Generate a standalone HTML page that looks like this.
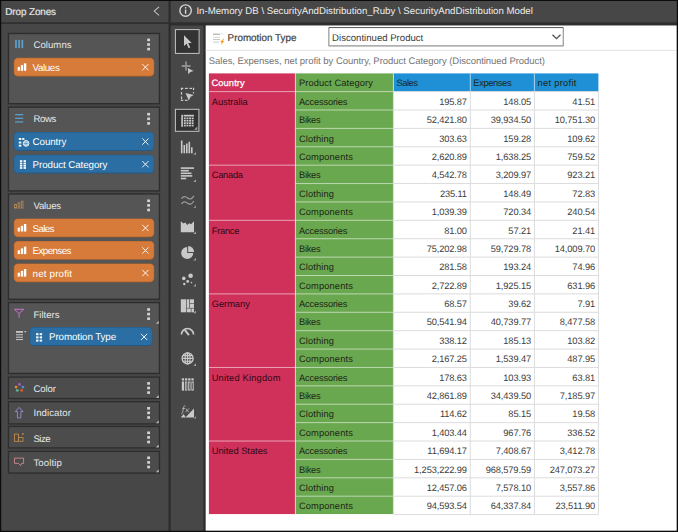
<!DOCTYPE html>
<html><head><meta charset="utf-8">
<title>Drop Zones</title>
<style>
html,body{margin:0;padding:0;}
body{text-rendering:geometricPrecision;width:678px;height:532px;overflow:hidden;background:#474747;position:relative;font-family:"Liberation Sans",sans-serif;font-size:9.5px;color:#e4e4e4;}
.abs{position:absolute;}
.t{white-space:nowrap;font-size:9.3px;letter-spacing:-0.12px;}
.hw{color:#fff;-webkit-text-stroke:0.25px #fff;}
.hd{color:#1c2616;}
.hr{color:#300815;}
.num{color:#3c3c3c;text-align:right;}
.bt{position:absolute;left:33.4px;font-size:9.6px;color:#e6e6e6;white-space:nowrap;}
.pt{position:absolute;line-height:19.4px;font-size:9.8px;color:#fff;white-space:nowrap;letter-spacing:-0.1px;}
svg{position:absolute;overflow:visible;}
</style></head><body>
<svg style="left:0;top:0" width="678" height="532" viewBox="0 0 678 532">
<rect x="0.00" y="0.00" width="678.00" height="532.00" fill="#474747" />
<rect x="0.00" y="22.30" width="170.00" height="1.60" fill="#2e2e2e" />
<rect x="168.50" y="0.00" width="2.20" height="532.00" fill="#2c2c2c" />
<rect x="170.00" y="22.30" width="508.00" height="3.20" fill="#2e2e2e" />
<rect x="203.30" y="23.00" width="2.40" height="509.00" fill="#2e2e2e" />
<rect x="205.70" y="25.50" width="471.10" height="505.30" fill="#ffffff" />
<rect x="205.70" y="49.90" width="470.10" height="1.10" fill="#e4e4e4" />
<rect x="0.00" y="0.00" width="678.00" height="1.00" fill="#0c0c0c" />
<rect x="0.00" y="0.00" width="1.20" height="532.00" fill="#0c0c0c" />
<rect x="676.80" y="0.00" width="1.20" height="532.00" fill="#0c0c0c" />
<rect x="0.00" y="530.80" width="678.00" height="1.20" fill="#0c0c0c" />
<rect x="7.80" y="32.80" width="152.35" height="71.60" fill="#2d2d2d" />
<rect x="9.15" y="34.15" width="149.65" height="68.90" fill="#555555" />
<rect x="7.80" y="106.50" width="152.35" height="85.10" fill="#2d2d2d" />
<rect x="9.15" y="107.85" width="149.65" height="82.40" fill="#555555" />
<rect x="7.80" y="193.30" width="152.35" height="106.70" fill="#2d2d2d" />
<rect x="9.15" y="194.65" width="149.65" height="104.00" fill="#555555" />
<rect x="7.80" y="301.90" width="152.35" height="72.20" fill="#2d2d2d" />
<rect x="9.15" y="303.25" width="149.65" height="69.50" fill="#555555" />
<rect x="7.80" y="376.40" width="152.35" height="22.80" fill="#2d2d2d" />
<rect x="9.15" y="377.75" width="149.65" height="20.10" fill="#4c4c4c" />
<rect x="7.80" y="401.00" width="152.35" height="23.60" fill="#2d2d2d" />
<rect x="9.15" y="402.35" width="149.65" height="20.90" fill="#4c4c4c" />
<rect x="7.80" y="425.80" width="152.35" height="22.80" fill="#2d2d2d" />
<rect x="9.15" y="427.15" width="149.65" height="20.10" fill="#4c4c4c" />
<rect x="7.80" y="450.70" width="152.35" height="23.00" fill="#2d2d2d" />
<rect x="9.15" y="452.05" width="149.65" height="20.30" fill="#4c4c4c" />
<rect x="13.8" y="57.8" width="140.40" height="18.80" rx="4.2" fill="#b8652b"/>
<rect x="14.3" y="58.199999999999996" width="139.40" height="17.50" rx="3.9" fill="#d67b39"/>
<rect x="13.8" y="132.1" width="140.40" height="18.80" rx="4.2" fill="#225a87"/>
<rect x="14.3" y="132.5" width="139.40" height="17.50" rx="3.9" fill="#2a6ea3"/>
<rect x="13.8" y="154.8" width="140.40" height="18.70" rx="4.2" fill="#225a87"/>
<rect x="14.3" y="155.20000000000002" width="139.40" height="17.40" rx="3.9" fill="#2a6ea3"/>
<rect x="13.8" y="218.5" width="140.40" height="18.80" rx="4.2" fill="#b8652b"/>
<rect x="14.3" y="218.9" width="139.40" height="17.50" rx="3.9" fill="#d67b39"/>
<rect x="13.8" y="241.0" width="140.40" height="18.80" rx="4.2" fill="#b8652b"/>
<rect x="14.3" y="241.4" width="139.40" height="17.50" rx="3.9" fill="#d67b39"/>
<rect x="13.8" y="263.5" width="140.40" height="18.80" rx="4.2" fill="#b8652b"/>
<rect x="14.3" y="263.9" width="139.40" height="17.50" rx="3.9" fill="#d67b39"/>
<rect x="29.7" y="327.1" width="122.70" height="18.90" rx="4.2" fill="#225a87"/>
<rect x="30.2" y="327.5" width="121.70" height="17.60" rx="3.9" fill="#2a6ea3"/>
<rect x="328.3" y="27.0" width="235.5" height="19.6" rx="1.2" fill="#8e8e8e"/>
<rect x="328.90" y="27.00" width="234.30" height="1.10" fill="#5e5e5e" />
<rect x="329.40" y="28.10" width="233.30" height="17.20" fill="#ffffff" />
<rect x="208.90" y="73.40" width="86.50" height="440.67" fill="#d0315a"/>
<rect x="295.40" y="73.40" width="98.00" height="440.67" fill="#6aa84f"/>
<rect x="393.40" y="73.40" width="205.00" height="18.20" fill="#1f8fd6"/>
<rect x="208.90" y="91.10" width="86.50" height="1.00" fill="rgba(255,255,255,0.55)"/>
<rect x="295.40" y="91.10" width="98.00" height="1.00" fill="rgba(255,255,255,0.55)"/>
<rect x="393.40" y="91.10" width="205.00" height="1.00" fill="#dcdcdc"/>
<rect x="295.40" y="109.49" width="98.00" height="1.00" fill="rgba(255,255,255,0.55)"/>
<rect x="393.40" y="109.49" width="205.00" height="1.00" fill="#dcdcdc"/>
<rect x="295.40" y="127.88" width="98.00" height="1.00" fill="rgba(255,255,255,0.55)"/>
<rect x="393.40" y="127.88" width="205.00" height="1.00" fill="#dcdcdc"/>
<rect x="295.40" y="146.27" width="98.00" height="1.00" fill="rgba(255,255,255,0.55)"/>
<rect x="393.40" y="146.27" width="205.00" height="1.00" fill="#dcdcdc"/>
<rect x="208.90" y="164.66" width="86.50" height="1.00" fill="rgba(255,255,255,0.55)"/>
<rect x="295.40" y="164.66" width="98.00" height="1.00" fill="rgba(255,255,255,0.55)"/>
<rect x="393.40" y="164.66" width="205.00" height="1.00" fill="#dcdcdc"/>
<rect x="295.40" y="183.05" width="98.00" height="1.00" fill="rgba(255,255,255,0.55)"/>
<rect x="393.40" y="183.05" width="205.00" height="1.00" fill="#dcdcdc"/>
<rect x="295.40" y="201.44" width="98.00" height="1.00" fill="rgba(255,255,255,0.55)"/>
<rect x="393.40" y="201.44" width="205.00" height="1.00" fill="#dcdcdc"/>
<rect x="208.90" y="219.83" width="86.50" height="1.00" fill="rgba(255,255,255,0.55)"/>
<rect x="295.40" y="219.83" width="98.00" height="1.00" fill="rgba(255,255,255,0.55)"/>
<rect x="393.40" y="219.83" width="205.00" height="1.00" fill="#dcdcdc"/>
<rect x="295.40" y="238.22" width="98.00" height="1.00" fill="rgba(255,255,255,0.55)"/>
<rect x="393.40" y="238.22" width="205.00" height="1.00" fill="#dcdcdc"/>
<rect x="295.40" y="256.61" width="98.00" height="1.00" fill="rgba(255,255,255,0.55)"/>
<rect x="393.40" y="256.61" width="205.00" height="1.00" fill="#dcdcdc"/>
<rect x="295.40" y="275.00" width="98.00" height="1.00" fill="rgba(255,255,255,0.55)"/>
<rect x="393.40" y="275.00" width="205.00" height="1.00" fill="#dcdcdc"/>
<rect x="208.90" y="293.39" width="86.50" height="1.00" fill="rgba(255,255,255,0.55)"/>
<rect x="295.40" y="293.39" width="98.00" height="1.00" fill="rgba(255,255,255,0.55)"/>
<rect x="393.40" y="293.39" width="205.00" height="1.00" fill="#dcdcdc"/>
<rect x="295.40" y="311.78" width="98.00" height="1.00" fill="rgba(255,255,255,0.55)"/>
<rect x="393.40" y="311.78" width="205.00" height="1.00" fill="#dcdcdc"/>
<rect x="295.40" y="330.17" width="98.00" height="1.00" fill="rgba(255,255,255,0.55)"/>
<rect x="393.40" y="330.17" width="205.00" height="1.00" fill="#dcdcdc"/>
<rect x="295.40" y="348.56" width="98.00" height="1.00" fill="rgba(255,255,255,0.55)"/>
<rect x="393.40" y="348.56" width="205.00" height="1.00" fill="#dcdcdc"/>
<rect x="208.90" y="366.95" width="86.50" height="1.00" fill="rgba(255,255,255,0.55)"/>
<rect x="295.40" y="366.95" width="98.00" height="1.00" fill="rgba(255,255,255,0.55)"/>
<rect x="393.40" y="366.95" width="205.00" height="1.00" fill="#dcdcdc"/>
<rect x="295.40" y="385.34" width="98.00" height="1.00" fill="rgba(255,255,255,0.55)"/>
<rect x="393.40" y="385.34" width="205.00" height="1.00" fill="#dcdcdc"/>
<rect x="295.40" y="403.73" width="98.00" height="1.00" fill="rgba(255,255,255,0.55)"/>
<rect x="393.40" y="403.73" width="205.00" height="1.00" fill="#dcdcdc"/>
<rect x="295.40" y="422.12" width="98.00" height="1.00" fill="rgba(255,255,255,0.55)"/>
<rect x="393.40" y="422.12" width="205.00" height="1.00" fill="#dcdcdc"/>
<rect x="208.90" y="440.51" width="86.50" height="1.00" fill="rgba(255,255,255,0.55)"/>
<rect x="295.40" y="440.51" width="98.00" height="1.00" fill="rgba(255,255,255,0.55)"/>
<rect x="393.40" y="440.51" width="205.00" height="1.00" fill="#dcdcdc"/>
<rect x="295.40" y="458.90" width="98.00" height="1.00" fill="rgba(255,255,255,0.55)"/>
<rect x="393.40" y="458.90" width="205.00" height="1.00" fill="#dcdcdc"/>
<rect x="295.40" y="477.29" width="98.00" height="1.00" fill="rgba(255,255,255,0.55)"/>
<rect x="393.40" y="477.29" width="205.00" height="1.00" fill="#dcdcdc"/>
<rect x="295.40" y="495.68" width="98.00" height="1.00" fill="rgba(255,255,255,0.55)"/>
<rect x="393.40" y="495.68" width="205.00" height="1.00" fill="#dcdcdc"/>
<rect x="393.40" y="514.07" width="205.00" height="1.00" fill="#dcdcdc"/>
<rect x="294.90" y="73.40" width="1.00" height="440.67" fill="rgba(255,255,255,0.6)"/>
<rect x="392.90" y="73.40" width="1.00" height="17.70" fill="rgba(255,255,255,0.6)"/>
<rect x="469.80" y="73.40" width="1.00" height="17.70" fill="rgba(255,255,255,0.6)"/>
<rect x="533.90" y="73.40" width="1.00" height="17.70" fill="rgba(255,255,255,0.6)"/>
<rect x="392.90" y="91.10" width="1.00" height="422.97" fill="#dcdcdc"/>
<rect x="469.80" y="91.10" width="1.00" height="422.97" fill="#dcdcdc"/>
<rect x="533.90" y="91.10" width="1.00" height="422.97" fill="#dcdcdc"/>
<rect x="597.90" y="91.10" width="1.00" height="422.97" fill="#dcdcdc"/>
<rect x="15.1" y="39.9" width="1.8" height="8.2" fill="#5c9fc9"/>
<rect x="18.2" y="39.9" width="1.8" height="8.2" fill="#5c9fc9"/>
<rect x="21.4" y="39.9" width="1.8" height="8.2" fill="#5c9fc9"/>
<rect x="15.1" y="114.0" width="8.1" height="1.25" fill="#5c9fc9"/>
<rect x="15.1" y="117.7" width="8.1" height="1.25" fill="#5c9fc9"/>
<rect x="15.1" y="121.3" width="8.1" height="1.25" fill="#5c9fc9"/>
<rect x="14.6" y="204.3" width="1.9" height="3.8" fill="none" stroke="#b98a55" stroke-width="0.8"/>
<rect x="18.1" y="202.8" width="1.7" height="5.3" fill="none" stroke="#b98a55" stroke-width="0.8"/>
<rect x="21.3" y="201.2" width="1.7" height="6.9" fill="none" stroke="#b98a55" stroke-width="0.8"/>
<path d="M14.4 309.3 H23.8 L19.1 313.6 Z M19.1 313.6 V317.8" fill="none" stroke="#cf6fd0" stroke-width="1" stroke-linejoin="miter"/>
<rect x="16" y="331.1" width="7" height="1.7" fill="#cfcfcf"/>
<rect x="16" y="334.3" width="7" height="0.95" fill="#cfcfcf"/>
<rect x="16" y="336.7" width="7" height="0.95" fill="#cfcfcf"/>
<rect x="16" y="339.1" width="7" height="0.95" fill="#cfcfcf"/>
<path d="M23.9 331.2 H26.6 L25.25 332.8 Z" fill="#cfcfcf"/>
<circle cx="19.5" cy="384.4" r="1.45" fill="#a65cc0"/>
<circle cx="22.9" cy="387.1" r="1.45" fill="#4f8fd0"/>
<circle cx="16.1" cy="387.1" r="1.45" fill="#e58b2f"/>
<circle cx="17.3" cy="390.4" r="1.45" fill="#5bb08c"/>
<circle cx="21.7" cy="390.4" r="1.45" fill="#e0562f"/>
<path d="M19.15 407.3 L23 411.6 H20.9 V417.9 H17.4 V411.6 H15.3 Z" fill="none" stroke="#9a90d6" stroke-width="0.9" stroke-linejoin="miter"/>
<rect x="14.5" y="434.1" width="4" height="7.2" fill="none" stroke="#c28b4a" stroke-width="0.85"/>
<rect x="18.5" y="437.6" width="4.5" height="3.7" fill="none" stroke="#c28b4a" stroke-width="0.85"/>
<rect x="22.1" y="433.2" width="1.6" height="1.6" fill="#c28b4a"/>
<path d="M14.5 458.1 H23.6 V463.4 H21.6 L20.6 465.6 L18.6 463.4 H14.5 Z" fill="none" stroke="#d98c8c" stroke-width="0.85" stroke-linejoin="miter"/>
<rect x="147.2" y="38.60" width="2.8" height="2.6" fill="#d4d4d4"/>
<rect x="147.2" y="43.20" width="2.8" height="2.6" fill="#d4d4d4"/>
<rect x="147.2" y="47.80" width="2.8" height="2.6" fill="#d4d4d4"/>
<rect x="147.2" y="112.90" width="2.8" height="2.6" fill="#d4d4d4"/>
<rect x="147.2" y="117.50" width="2.8" height="2.6" fill="#d4d4d4"/>
<rect x="147.2" y="122.10" width="2.8" height="2.6" fill="#d4d4d4"/>
<rect x="147.2" y="199.50" width="2.8" height="2.6" fill="#d4d4d4"/>
<rect x="147.2" y="204.10" width="2.8" height="2.6" fill="#d4d4d4"/>
<rect x="147.2" y="208.70" width="2.8" height="2.6" fill="#d4d4d4"/>
<rect x="147.2" y="308.20" width="2.8" height="2.6" fill="#d4d4d4"/>
<rect x="147.2" y="312.80" width="2.8" height="2.6" fill="#d4d4d4"/>
<rect x="147.2" y="317.40" width="2.8" height="2.6" fill="#d4d4d4"/>
<rect x="147.2" y="382.10" width="2.8" height="2.6" fill="#d4d4d4"/>
<rect x="147.2" y="386.70" width="2.8" height="2.6" fill="#d4d4d4"/>
<rect x="147.2" y="391.30" width="2.8" height="2.6" fill="#d4d4d4"/>
<rect x="147.2" y="407.00" width="2.8" height="2.6" fill="#d4d4d4"/>
<rect x="147.2" y="411.60" width="2.8" height="2.6" fill="#d4d4d4"/>
<rect x="147.2" y="416.20" width="2.8" height="2.6" fill="#d4d4d4"/>
<rect x="147.2" y="431.50" width="2.8" height="2.6" fill="#d4d4d4"/>
<rect x="147.2" y="436.10" width="2.8" height="2.6" fill="#d4d4d4"/>
<rect x="147.2" y="440.70" width="2.8" height="2.6" fill="#d4d4d4"/>
<rect x="147.2" y="456.50" width="2.8" height="2.6" fill="#d4d4d4"/>
<rect x="147.2" y="461.10" width="2.8" height="2.6" fill="#d4d4d4"/>
<rect x="147.2" y="465.70" width="2.8" height="2.6" fill="#d4d4d4"/>
<path d="M158.8 320.8 V323.8 H155.8 Z" fill="#b5b5b5"/>
<path d="M158.8 395.0 V398.0 H155.8 Z" fill="#b5b5b5"/>
<path d="M158.8 420.3 V423.3 H155.8 Z" fill="#b5b5b5"/>
<path d="M158.8 444.4 V447.4 H155.8 Z" fill="#b5b5b5"/>
<path d="M158.8 469.3 V472.3 H155.8 Z" fill="#b5b5b5"/>
<rect x="17.7" y="66.90" width="2.2" height="3.9" fill="#fff"/>
<rect x="20.8" y="65.10" width="2.3" height="5.7" fill="#fff"/>
<rect x="23.9" y="63.30" width="2.4" height="7.5" fill="#fff"/>
<rect x="17.7" y="227.60" width="2.2" height="3.9" fill="#fff"/>
<rect x="20.8" y="225.80" width="2.3" height="5.7" fill="#fff"/>
<rect x="23.9" y="224.00" width="2.4" height="7.5" fill="#fff"/>
<rect x="17.7" y="250.20" width="2.2" height="3.9" fill="#fff"/>
<rect x="20.8" y="248.40" width="2.3" height="5.7" fill="#fff"/>
<rect x="23.9" y="246.60" width="2.4" height="7.5" fill="#fff"/>
<rect x="17.7" y="272.70" width="2.2" height="3.9" fill="#fff"/>
<rect x="20.8" y="270.90" width="2.3" height="5.7" fill="#fff"/>
<rect x="23.9" y="269.10" width="2.4" height="7.5" fill="#fff"/>
<path d="M142.3 64.10000000000001 L148.5 70.3 M148.5 64.10000000000001 L142.3 70.3" stroke="#fff" stroke-opacity="0.92" stroke-width="1.0" fill="none"/>
<path d="M142.3 138.5 L148.5 144.7 M148.5 138.5 L142.3 144.7" stroke="#fff" stroke-opacity="0.92" stroke-width="1.0" fill="none"/>
<path d="M142.3 161.1 L148.5 167.29999999999998 M148.5 161.1 L142.3 167.29999999999998" stroke="#fff" stroke-opacity="0.92" stroke-width="1.0" fill="none"/>
<path d="M142.3 224.8 L148.5 231.0 M148.5 224.8 L142.3 231.0" stroke="#fff" stroke-opacity="0.92" stroke-width="1.0" fill="none"/>
<path d="M142.3 247.4 L148.5 253.6 M148.5 247.4 L142.3 253.6" stroke="#fff" stroke-opacity="0.92" stroke-width="1.0" fill="none"/>
<path d="M142.3 269.9 L148.5 276.1 M148.5 269.9 L142.3 276.1" stroke="#fff" stroke-opacity="0.92" stroke-width="1.0" fill="none"/>
<path d="M141.0 333.8 L147.2 340.00000000000006 M147.2 333.8 L141.0 340.00000000000006" stroke="#fff" stroke-opacity="0.92" stroke-width="1.0" fill="none"/>
<rect x="18.8" y="138.0" width="2.5" height="1.9" fill="#fff"/>
<rect x="18.8" y="141.6" width="2.5" height="1.9" fill="#fff"/>
<rect x="18.8" y="144.7" width="2.5" height="1.9" fill="#fff"/>
<rect x="22.2" y="138" width="2.2" height="1.9" fill="#fff"/>
<circle cx="26.1" cy="143.4" r="2.8" fill="none" stroke="#fff" stroke-width="0.95"/>
<ellipse cx="26.1" cy="143.4" rx="1.2" ry="2.8" fill="none" stroke="#fff" stroke-width="0.55"/>
<path d="M23.3 142.6 H28.9 M23.3 144.3 H28.9" stroke="#fff" stroke-width="0.55"/>
<rect x="19.9" y="160.2" width="2.4" height="1.75" fill="#fff"/>
<rect x="23.5" y="160.2" width="2.5" height="1.75" fill="#fff"/>
<rect x="19.9" y="162.6" width="2.4" height="1.75" fill="#fff"/>
<rect x="23.5" y="162.6" width="2.5" height="1.75" fill="#fff"/>
<rect x="19.9" y="164.9" width="2.4" height="1.75" fill="#fff"/>
<rect x="23.5" y="164.9" width="2.5" height="1.75" fill="#fff"/>
<rect x="19.9" y="167.1" width="2.4" height="1.75" fill="#fff"/>
<rect x="23.5" y="167.1" width="2.5" height="1.75" fill="#fff"/>
<rect x="36.1" y="333.2" width="2.4" height="2" fill="#fff"/>
<rect x="39.7" y="333.2" width="2.4" height="2" fill="#fff"/>
<rect x="36.1" y="336.4" width="2.4" height="2" fill="#fff"/>
<rect x="39.7" y="336.4" width="2.4" height="2" fill="#fff"/>
<rect x="36.1" y="339.6" width="2.4" height="2" fill="#fff"/>
<rect x="39.7" y="339.6" width="2.4" height="2" fill="#fff"/>
<rect x="175.4" y="29.6" width="23.7" height="23.8" fill="#333" stroke="#c4c4c4" stroke-width="1"/>
<rect x="175.4" y="109.3" width="23.5" height="22" fill="#333" stroke="#c4c4c4" stroke-width="1"/>
<path d="M184 35.2 L184 46 L186.6 43.7 L188.6 48.2 L190.2 47.5 L188.2 43.1 L191.7 42.9 Z" fill="#c9c9c9"/>
<path d="M186 61.6 V70.4 M181.7 66 H190.5" stroke="#8e8e8e" stroke-width="1.8" fill="none"/>
<path d="M187.8 68 L193.6 70.9 L190.4 71.9 L188.3 74.2 Z" fill="#c9c9c9"/>
<rect x="180.90" y="87.80" width="2.40" height="1.20" fill="#c9c9c9" />
<rect x="184.90" y="87.80" width="2.90" height="1.20" fill="#c9c9c9" />
<rect x="189.40" y="87.80" width="2.60" height="1.20" fill="#c9c9c9" />
<rect x="193.00" y="87.80" width="1.10" height="1.20" fill="#c9c9c9" />
<rect x="180.90" y="99.70" width="2.40" height="1.20" fill="#c9c9c9" />
<rect x="184.90" y="99.70" width="2.70" height="1.20" fill="#c9c9c9" />
<rect x="180.90" y="87.80" width="1.20" height="2.30" fill="#c9c9c9" />
<rect x="180.90" y="92.00" width="1.20" height="2.70" fill="#c9c9c9" />
<rect x="180.90" y="96.50" width="1.20" height="2.70" fill="#c9c9c9" />
<rect x="180.90" y="100.10" width="1.20" height="0.80" fill="#c9c9c9" />
<rect x="192.90" y="87.80" width="1.20" height="2.30" fill="#c9c9c9" />
<rect x="192.90" y="92.00" width="1.20" height="1.40" fill="#c9c9c9" />
<path d="M185.5 93 L193.8 95 L190.6 96.7 L188.8 100.6 Z" fill="#c9c9c9"/>
<rect x="181.3" y="114.8" width="1.6" height="12.1" fill="#c9c9c9"/>
<rect x="183.6" y="114.8" width="10.4" height="1.7" fill="#c9c9c9"/>
<rect x="183.9" y="117.5" width="1.9" height="1.7" fill="#c9c9c9"/>
<rect x="186.5" y="117.5" width="1.9" height="1.7" fill="#c9c9c9"/>
<rect x="189.1" y="117.5" width="1.9" height="1.7" fill="#c9c9c9"/>
<rect x="191.7" y="117.5" width="1.9" height="1.7" fill="#c9c9c9"/>
<rect x="183.9" y="119.9" width="1.9" height="1.7" fill="#c9c9c9"/>
<rect x="186.5" y="119.9" width="1.9" height="1.7" fill="#c9c9c9"/>
<rect x="189.1" y="119.9" width="1.9" height="1.7" fill="#c9c9c9"/>
<rect x="191.7" y="119.9" width="1.9" height="1.7" fill="#c9c9c9"/>
<rect x="183.9" y="122.3" width="1.9" height="1.7" fill="#c9c9c9"/>
<rect x="186.5" y="122.3" width="1.9" height="1.7" fill="#c9c9c9"/>
<rect x="189.1" y="122.3" width="1.9" height="1.7" fill="#c9c9c9"/>
<rect x="191.7" y="122.3" width="1.9" height="1.7" fill="#c9c9c9"/>
<rect x="183.9" y="124.7" width="1.9" height="1.7" fill="#c9c9c9"/>
<rect x="186.5" y="124.7" width="1.9" height="1.7" fill="#c9c9c9"/>
<rect x="189.1" y="124.7" width="1.9" height="1.7" fill="#c9c9c9"/>
<rect x="191.7" y="124.7" width="1.9" height="1.7" fill="#c9c9c9"/>
<path d="M197.3 126.49999999999999 V129.7 H194.10000000000002 Z" fill="#a0a0a0"/>
<rect x="180.9" y="140.5" width="1.6" height="12.80" fill="#c9c9c9"/>
<rect x="183.5" y="145" width="1.6" height="8.30" fill="#c9c9c9"/>
<rect x="186" y="143.5" width="1.6" height="9.80" fill="#c9c9c9"/>
<rect x="188.5" y="141.7" width="1.6" height="11.60" fill="#c9c9c9"/>
<rect x="191" y="147.3" width="1.6" height="6.00" fill="#c9c9c9"/>
<path d="M196 152.10000000000002 V154.8 H193.3 Z" fill="#a0a0a0"/>
<rect x="180.8" y="167.3" width="13.2" height="1.6" fill="#c9c9c9"/>
<rect x="180.8" y="169.9" width="8" height="1.6" fill="#c9c9c9"/>
<rect x="180.8" y="172.5" width="10.7" height="1.6" fill="#c9c9c9"/>
<rect x="180.8" y="175.1" width="11.5" height="1.6" fill="#c9c9c9"/>
<rect x="180.8" y="177.7" width="5.4" height="1.6" fill="#c9c9c9"/>
<path d="M196 179.20000000000002 V181.9 H193.3 Z" fill="#a0a0a0"/>
<path d="M181.4 198.6 C183.5 195.8 185.8 196.4 187.6 198 S191.5 199.5 193.9 195.8" stroke="#9a9a9a" stroke-width="1.25" fill="none"/>
<path d="M181.4 203.8 C183.5 201 185.8 201.6 187.6 203.2 S191.5 204.7 193.9 201" stroke="#9a9a9a" stroke-width="1.25" fill="none"/>
<path d="M196 205.20000000000002 V207.9 H193.3 Z" fill="#8a8a8a"/>
<path d="M180.8 221.3 L183.4 223.4 L185.3 222.6 L187.2 224.9 L189.2 223.3 L191 224.2 L194 221.3 V232.3 H180.8 Z" fill="#c9c9c9"/>
<path d="M196 231.3 V234 H193.3 Z" fill="#a0a0a0"/>
<path d="M187.2 246.9 A6 6 0 1 0 193.2 252.9 H187.2 Z" fill="#c9c9c9"/>
<path d="M188.2 246 A6 6 0 0 1 194.1 251.9 H188.2 Z" fill="#c9c9c9"/>
<path d="M196 257.7 V260.4 H193.3 Z" fill="#a0a0a0"/>
<circle cx="190.6" cy="275.7" r="2.3" fill="#c9c9c9"/>
<circle cx="183.8" cy="278.4" r="1.8" fill="#c9c9c9"/>
<circle cx="187.7" cy="281.4" r="1.45" fill="#c9c9c9"/>
<circle cx="184.3" cy="284" r="1.2" fill="#c9c9c9"/>
<circle cx="191.5" cy="282.6" r="0.8" fill="#c9c9c9"/>
<path d="M196 283.7 V286.4 H193.3 Z" fill="#a0a0a0"/>
<rect x="180.8" y="299.3" width="5.4" height="13" fill="#c9c9c9"/>
<rect x="186.8" y="299.3" width="2.4" height="8.6" fill="#c9c9c9"/>
<rect x="189.8" y="299.3" width="4.2" height="4" fill="#c9c9c9"/>
<rect x="189.8" y="303.9" width="4.2" height="4" fill="#c9c9c9"/>
<rect x="186.8" y="308.5" width="4" height="3.8" fill="#c9c9c9"/>
<rect x="191.4" y="308.5" width="2.6" height="3.8" fill="#c9c9c9"/>
<path d="M196 310.6 V313.3 H193.3 Z" fill="#a0a0a0"/>
<path d="M181.4 334.6 A6.1 6.1 0 0 1 193.6 334.6" stroke="#c9c9c9" stroke-width="1.7" fill="none"/>
<path d="M188.9 335.2 L184.8 329.9" stroke="#c9c9c9" stroke-width="1.9" fill="none"/>
<circle cx="187.6" cy="358.4" r="5.5" fill="none" stroke="#c9c9c9" stroke-width="1.3"/>
<ellipse cx="187.6" cy="358.4" rx="2.5" ry="5.5" fill="none" stroke="#c9c9c9" stroke-width="1.1"/>
<path d="M182 358.4 H193.2 M183 355.6 H192.2 M183 361.2 H192.2 M187.6 352.8 V364" stroke="#c9c9c9" stroke-width="1.15" fill="none"/>
<path d="M196 363.3 V366 H193.3 Z" fill="#a0a0a0"/>
<rect x="181.8" y="378.3" width="2.3" height="2.2" fill="#c9c9c9"/>
<rect x="181.8" y="381.5" width="2.3" height="9.1" fill="#c9c9c9"/>
<rect x="185" y="378.3" width="2.3" height="2.2" fill="#c9c9c9"/>
<rect x="185.4" y="381.9" width="1.5" height="8.3" fill="none" stroke="#c9c9c9" stroke-width="0.8"/>
<rect x="188.2" y="378.3" width="2.3" height="2.2" fill="#c9c9c9"/>
<rect x="188.6" y="381.9" width="1.5" height="8.3" fill="none" stroke="#c9c9c9" stroke-width="0.8"/>
<rect x="191.4" y="378.3" width="2.3" height="2.2" fill="#c9c9c9"/>
<rect x="191.8" y="381.9" width="1.5" height="8.3" fill="none" stroke="#c9c9c9" stroke-width="0.8"/>
<path d="M185.3 405.9 C184.2 405.5 183.7 406.3 183.5 407.6 L182.7 412.2 C182.5 413.4 182 413.9 181.2 413.6 M182.3 408.4 H185.1 M185.9 408.5 L188.6 412.3 M188.9 408.5 L185.4 412.3" stroke="#c9c9c9" stroke-width="0.75" fill="none"/>
<path d="M180.8 417.6 L183.6 413.9 L185.8 417.6 Z" fill="#c9c9c9"/>
<path d="M185.4 417.6 L194 408.6 V417.6 Z" fill="#c9c9c9"/>
<path d="M196 416.20000000000005 V418.6 H193.6 Z" fill="#a0a0a0"/>
<rect x="213.00" y="33.55" width="7.00" height="1.45" fill="#bdbdbd" />
<rect x="213.00" y="36.80" width="7.00" height="0.85" fill="#d2d2d2" />
<rect x="213.00" y="39.10" width="7.00" height="0.90" fill="#c2c2c2" />
<rect x="213.00" y="41.55" width="6.20" height="1.25" fill="#d6d6d6" />
<path d="M221 33.6 H223.1 L222.05 34.9 Z" fill="#d0d0d0"/>
<path d="M223.3 38.8 L220.1 42.3 H221.9 L220.8 45.3 L224.3 41.1 H222.6 L224.1 38.8 Z" fill="#f39a1e"/>
</svg>
<!-- Drop zones header -->
<div class="abs" style="left:5.3px;top:4.6px;line-height:15px;font-size:9.9px;color:#e4e4e4;-webkit-text-stroke:0.2px #e4e4e4;letter-spacing:-0.1px;white-space:nowrap">Drop Zones</div>
<svg style="left:153px;top:6px" width="8" height="10" viewBox="0 0 8 10"><path d="M6 0.9 L1.2 5.1 L6 9.3" fill="none" stroke="#bdbdbd" stroke-width="1.1"/></svg>

<!-- top bar right -->
<svg style="left:178.9px;top:3.9px" width="13.2" height="13.2" viewBox="0 0 13.2 13.2"><circle cx="6.6" cy="6.6" r="5.7" fill="none" stroke="#d8d8d8" stroke-width="1.35"/><rect x="5.9" y="5.5" width="1.4" height="4.3" fill="#d8d8d8"/><rect x="5.9" y="3.1" width="1.4" height="1.4" fill="#d8d8d8"/></svg>
<div class="abs" style="left:196.4px;top:4.3px;line-height:15px;font-size:9.68px;color:#ececec;letter-spacing:0px;white-space:nowrap">In-Memory DB \ SecurityAndDistribution_Ruby \ SecurityAndDistribution Model</div>

<!-- LEFT PANEL BOXES -->

<div class="bt" style="top:39.6px;line-height:12px;letter-spacing:0.06px">Columns</div>
<div class="bt" style="top:113.8px;line-height:12px;letter-spacing:-0.37px">Rows</div>
<div class="bt" style="top:200.8px;line-height:12px;letter-spacing:-0.18px">Values</div>
<div class="bt" style="top:309.7px;line-height:12px;letter-spacing:0px">Filters</div>
<div class="bt" style="top:384.0px;line-height:12px;letter-spacing:-0.08px">Color</div>
<div class="bt" style="top:408.4px;line-height:12px;letter-spacing:0.08px">Indicator</div>
<div class="bt" style="top:434.2px;line-height:12px;letter-spacing:-0.47px">Size</div>
<div class="bt" style="top:457.6px;line-height:12px;letter-spacing:0.11px">Tooltip</div>

<!-- PILLS -->
<div class="pt" style="letter-spacing:-0.4px;left:32.6px;top:58.7px">Values</div>
<div class="pt" style="left:32.6px;top:133.1px">Country</div>
<div class="pt" style="left:32.6px;top:155.7px">Product Category</div>
<div class="pt" style="letter-spacing:-0.65px;left:32.6px;top:220.4px">Sales</div>
<div class="pt" style="letter-spacing:-0.6px;left:32.6px;top:242.0px">Expenses</div>
<div class="pt" style="letter-spacing:0.15px;left:32.6px;top:264.5px">net profit</div>
<div class="pt" style="left:49px;top:328.2px">Promotion Type</div>


<!-- filter row -->
<div class="abs" style="left:227.6px;top:31.0px;line-height:16px;font-size:9.85px;color:#3c3c3c;-webkit-text-stroke:0.18px #3c3c3c;white-space:nowrap;letter-spacing:0px">Promotion Type</div>
<div class="abs" style="left:332.1px;top:30.6px;line-height:16px;font-size:9.6px;color:#3a3a3a;white-space:nowrap;letter-spacing:0px">Discontinued Product</div>
<svg style="left:551.5px;top:33.8px" width="9" height="6" viewBox="0 0 9 6"><path d="M0.5 0.7 L4.5 4.7 L8.5 0.7" fill="none" stroke="#505050" stroke-width="1.3"/></svg>
<div class="abs" style="left:208.8px;top:53.8px;line-height:16px;font-size:9.5px;color:#747474;white-space:nowrap;letter-spacing:-0.04px">Sales, Expenses, net profit by Country, Product Category (Discontinued Product)</div>

<div class="abs t hw" style="left:211.50px;top:73.4px;line-height:20.10px;letter-spacing:0.1px">Country</div>
<div class="abs t hd" style="left:299.00px;top:73.4px;line-height:20.10px;letter-spacing:0.1px">Product Category</div>
<div class="abs t hd" style="left:396.60px;top:73.4px;line-height:20.10px;letter-spacing:-0.5px">Sales</div>
<div class="abs t hd" style="left:473.30px;top:73.4px;line-height:20.10px;letter-spacing:-0.37px">Expenses</div>
<div class="abs t hd" style="left:537.50px;top:73.4px;line-height:20.10px;letter-spacing:0.3px">net profit</div>
<div class="abs t hr" style="left:211.70px;top:92.80px;line-height:18.39px;letter-spacing:-0.01px">Australia</div>
<div class="abs t hd" style="left:299.00px;top:92.80px;line-height:18.39px;letter-spacing:-0.18px">Accessories</div>
<div class="abs t num" style="right:211.10px;top:92.80px;line-height:18.39px">195.87</div>
<div class="abs t num" style="right:147.00px;top:92.80px;line-height:18.39px">148.05</div>
<div class="abs t num" style="right:83.00px;top:92.80px;line-height:18.39px">41.51</div>
<div class="abs t hd" style="left:299.00px;top:111.19px;line-height:18.39px;letter-spacing:-0.28px">Bikes</div>
<div class="abs t num" style="right:211.10px;top:111.19px;line-height:18.39px">52,421.80</div>
<div class="abs t num" style="right:147.00px;top:111.19px;line-height:18.39px">39,934.50</div>
<div class="abs t num" style="right:83.00px;top:111.19px;line-height:18.39px">10,751.30</div>
<div class="abs t hd" style="left:299.00px;top:129.58px;line-height:18.39px;letter-spacing:0.12px">Clothing</div>
<div class="abs t num" style="right:211.10px;top:129.58px;line-height:18.39px">303.63</div>
<div class="abs t num" style="right:147.00px;top:129.58px;line-height:18.39px">159.28</div>
<div class="abs t num" style="right:83.00px;top:129.58px;line-height:18.39px">109.62</div>
<div class="abs t hd" style="left:299.00px;top:147.97px;line-height:18.39px;letter-spacing:0.12px">Components</div>
<div class="abs t num" style="right:211.10px;top:147.97px;line-height:18.39px">2,620.89</div>
<div class="abs t num" style="right:147.00px;top:147.97px;line-height:18.39px">1,638.25</div>
<div class="abs t num" style="right:83.00px;top:147.97px;line-height:18.39px">759.52</div>
<div class="abs t hr" style="left:211.70px;top:166.36px;line-height:18.39px;letter-spacing:-0.25px">Canada</div>
<div class="abs t hd" style="left:299.00px;top:166.36px;line-height:18.39px;letter-spacing:-0.28px">Bikes</div>
<div class="abs t num" style="right:211.10px;top:166.36px;line-height:18.39px">4,542.78</div>
<div class="abs t num" style="right:147.00px;top:166.36px;line-height:18.39px">3,209.97</div>
<div class="abs t num" style="right:83.00px;top:166.36px;line-height:18.39px">923.21</div>
<div class="abs t hd" style="left:299.00px;top:184.75px;line-height:18.39px;letter-spacing:0.12px">Clothing</div>
<div class="abs t num" style="right:211.10px;top:184.75px;line-height:18.39px">235.11</div>
<div class="abs t num" style="right:147.00px;top:184.75px;line-height:18.39px">148.49</div>
<div class="abs t num" style="right:83.00px;top:184.75px;line-height:18.39px">72.83</div>
<div class="abs t hd" style="left:299.00px;top:203.14px;line-height:18.39px;letter-spacing:0.12px">Components</div>
<div class="abs t num" style="right:211.10px;top:203.14px;line-height:18.39px">1,039.39</div>
<div class="abs t num" style="right:147.00px;top:203.14px;line-height:18.39px">720.34</div>
<div class="abs t num" style="right:83.00px;top:203.14px;line-height:18.39px">240.54</div>
<div class="abs t hr" style="left:211.70px;top:221.53px;line-height:18.39px;letter-spacing:-0.24px">France</div>
<div class="abs t hd" style="left:299.00px;top:221.53px;line-height:18.39px;letter-spacing:-0.18px">Accessories</div>
<div class="abs t num" style="right:211.10px;top:221.53px;line-height:18.39px">81.00</div>
<div class="abs t num" style="right:147.00px;top:221.53px;line-height:18.39px">57.21</div>
<div class="abs t num" style="right:83.00px;top:221.53px;line-height:18.39px">21.41</div>
<div class="abs t hd" style="left:299.00px;top:239.92px;line-height:18.39px;letter-spacing:-0.28px">Bikes</div>
<div class="abs t num" style="right:211.10px;top:239.92px;line-height:18.39px">75,202.98</div>
<div class="abs t num" style="right:147.00px;top:239.92px;line-height:18.39px">59,729.78</div>
<div class="abs t num" style="right:83.00px;top:239.92px;line-height:18.39px">14,009.70</div>
<div class="abs t hd" style="left:299.00px;top:258.31px;line-height:18.39px;letter-spacing:0.12px">Clothing</div>
<div class="abs t num" style="right:211.10px;top:258.31px;line-height:18.39px">281.58</div>
<div class="abs t num" style="right:147.00px;top:258.31px;line-height:18.39px">193.24</div>
<div class="abs t num" style="right:83.00px;top:258.31px;line-height:18.39px">74.96</div>
<div class="abs t hd" style="left:299.00px;top:276.70px;line-height:18.39px;letter-spacing:0.12px">Components</div>
<div class="abs t num" style="right:211.10px;top:276.70px;line-height:18.39px">2,722.89</div>
<div class="abs t num" style="right:147.00px;top:276.70px;line-height:18.39px">1,925.15</div>
<div class="abs t num" style="right:83.00px;top:276.70px;line-height:18.39px">631.96</div>
<div class="abs t hr" style="left:211.70px;top:295.09px;line-height:18.39px;letter-spacing:-0.02px">Germany</div>
<div class="abs t hd" style="left:299.00px;top:295.09px;line-height:18.39px;letter-spacing:-0.18px">Accessories</div>
<div class="abs t num" style="right:211.10px;top:295.09px;line-height:18.39px">68.57</div>
<div class="abs t num" style="right:147.00px;top:295.09px;line-height:18.39px">39.62</div>
<div class="abs t num" style="right:83.00px;top:295.09px;line-height:18.39px">7.91</div>
<div class="abs t hd" style="left:299.00px;top:313.48px;line-height:18.39px;letter-spacing:-0.28px">Bikes</div>
<div class="abs t num" style="right:211.10px;top:313.48px;line-height:18.39px">50,541.94</div>
<div class="abs t num" style="right:147.00px;top:313.48px;line-height:18.39px">40,739.77</div>
<div class="abs t num" style="right:83.00px;top:313.48px;line-height:18.39px">8,477.58</div>
<div class="abs t hd" style="left:299.00px;top:331.87px;line-height:18.39px;letter-spacing:0.12px">Clothing</div>
<div class="abs t num" style="right:211.10px;top:331.87px;line-height:18.39px">338.12</div>
<div class="abs t num" style="right:147.00px;top:331.87px;line-height:18.39px">185.13</div>
<div class="abs t num" style="right:83.00px;top:331.87px;line-height:18.39px">103.82</div>
<div class="abs t hd" style="left:299.00px;top:350.26px;line-height:18.39px;letter-spacing:0.12px">Components</div>
<div class="abs t num" style="right:211.10px;top:350.26px;line-height:18.39px">2,167.25</div>
<div class="abs t num" style="right:147.00px;top:350.26px;line-height:18.39px">1,539.47</div>
<div class="abs t num" style="right:83.00px;top:350.26px;line-height:18.39px">487.95</div>
<div class="abs t hr" style="left:211.70px;top:368.65px;line-height:18.39px;letter-spacing:0.2px">United Kingdom</div>
<div class="abs t hd" style="left:299.00px;top:368.65px;line-height:18.39px;letter-spacing:-0.18px">Accessories</div>
<div class="abs t num" style="right:211.10px;top:368.65px;line-height:18.39px">178.63</div>
<div class="abs t num" style="right:147.00px;top:368.65px;line-height:18.39px">103.93</div>
<div class="abs t num" style="right:83.00px;top:368.65px;line-height:18.39px">63.81</div>
<div class="abs t hd" style="left:299.00px;top:387.04px;line-height:18.39px;letter-spacing:-0.28px">Bikes</div>
<div class="abs t num" style="right:211.10px;top:387.04px;line-height:18.39px">42,861.89</div>
<div class="abs t num" style="right:147.00px;top:387.04px;line-height:18.39px">34,439.50</div>
<div class="abs t num" style="right:83.00px;top:387.04px;line-height:18.39px">7,185.97</div>
<div class="abs t hd" style="left:299.00px;top:405.43px;line-height:18.39px;letter-spacing:0.12px">Clothing</div>
<div class="abs t num" style="right:211.10px;top:405.43px;line-height:18.39px">114.62</div>
<div class="abs t num" style="right:147.00px;top:405.43px;line-height:18.39px">85.15</div>
<div class="abs t num" style="right:83.00px;top:405.43px;line-height:18.39px">19.58</div>
<div class="abs t hd" style="left:299.00px;top:423.82px;line-height:18.39px;letter-spacing:0.12px">Components</div>
<div class="abs t num" style="right:211.10px;top:423.82px;line-height:18.39px">1,403.44</div>
<div class="abs t num" style="right:147.00px;top:423.82px;line-height:18.39px">967.76</div>
<div class="abs t num" style="right:83.00px;top:423.82px;line-height:18.39px">336.52</div>
<div class="abs t hr" style="left:211.70px;top:442.21px;line-height:18.39px;letter-spacing:0.0px">United States</div>
<div class="abs t hd" style="left:299.00px;top:442.21px;line-height:18.39px;letter-spacing:-0.18px">Accessories</div>
<div class="abs t num" style="right:211.10px;top:442.21px;line-height:18.39px">11,694.17</div>
<div class="abs t num" style="right:147.00px;top:442.21px;line-height:18.39px">7,408.67</div>
<div class="abs t num" style="right:83.00px;top:442.21px;line-height:18.39px">3,412.78</div>
<div class="abs t hd" style="left:299.00px;top:460.60px;line-height:18.39px;letter-spacing:-0.28px">Bikes</div>
<div class="abs t num" style="right:211.10px;top:460.60px;line-height:18.39px">1,253,222.99</div>
<div class="abs t num" style="right:147.00px;top:460.60px;line-height:18.39px">968,579.59</div>
<div class="abs t num" style="right:83.00px;top:460.60px;line-height:18.39px">247,073.27</div>
<div class="abs t hd" style="left:299.00px;top:478.99px;line-height:18.39px;letter-spacing:0.12px">Clothing</div>
<div class="abs t num" style="right:211.10px;top:478.99px;line-height:18.39px">12,457.06</div>
<div class="abs t num" style="right:147.00px;top:478.99px;line-height:18.39px">7,578.10</div>
<div class="abs t num" style="right:83.00px;top:478.99px;line-height:18.39px">3,557.86</div>
<div class="abs t hd" style="left:299.00px;top:497.38px;line-height:18.39px;letter-spacing:0.12px">Components</div>
<div class="abs t num" style="right:211.10px;top:497.38px;line-height:18.39px">94,593.54</div>
<div class="abs t num" style="right:147.00px;top:497.38px;line-height:18.39px">64,337.84</div>
<div class="abs t num" style="right:83.00px;top:497.38px;line-height:18.39px">23,511.90</div>
</body></html>
